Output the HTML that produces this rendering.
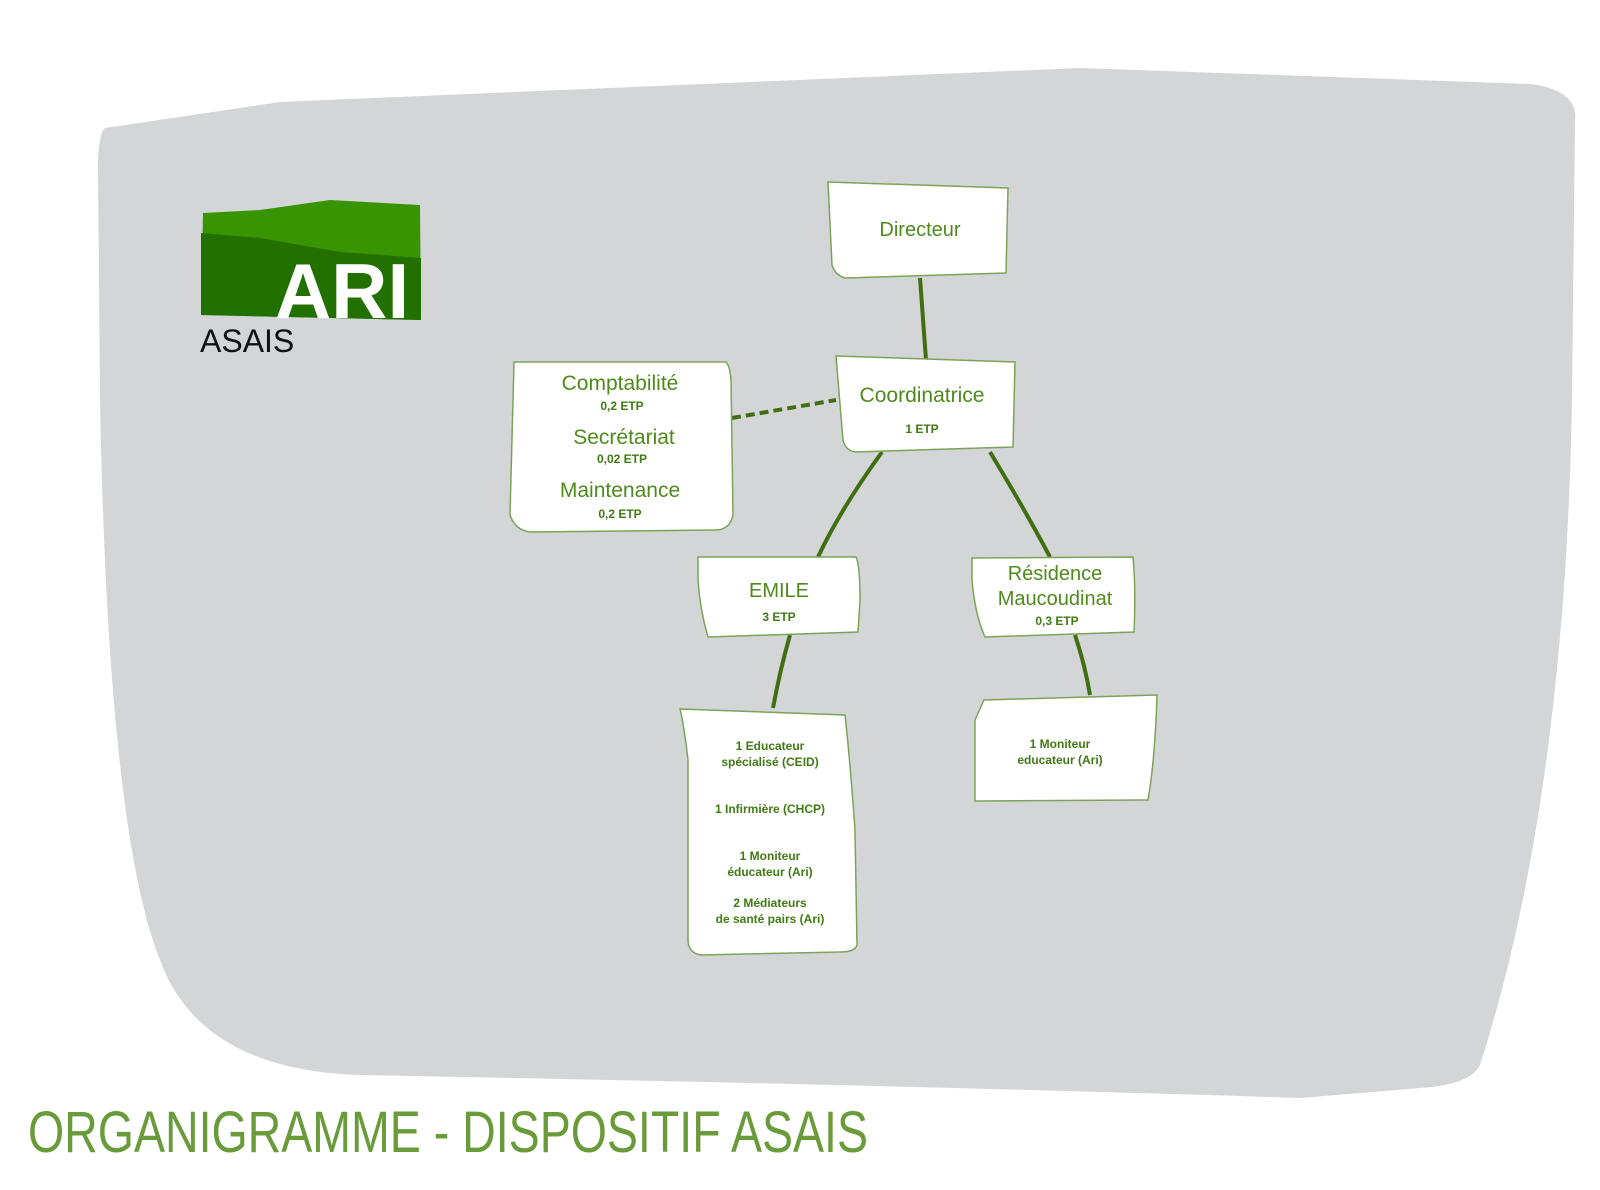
<!DOCTYPE html>
<html><head><meta charset="utf-8"><style>
html,body{margin:0;padding:0;background:#fff;}
svg{display:block}
.t{font-family:"Liberation Sans",sans-serif;fill:#4f8a1c;text-anchor:middle}
.s{font-family:"Liberation Sans",sans-serif;fill:#3f7a12;font-weight:bold;font-size:12px;text-anchor:middle}
.n{fill:#fff;stroke:#7da35a;stroke-width:1.5}
</style></head><body>
<svg width="1600" height="1190" viewBox="0 0 1600 1190" xmlns="http://www.w3.org/2000/svg">
<path d="M105,128 L280,102 L1080,68 L1530,84 Q1578,90 1575,120 L1572,400 Q1565,800 1480,1065 Q1470,1085 1420,1088 L1300,1098 Q900,1085 360,1075 Q200,1070 160,960 Q108,830 100,400 L98,160 Q100,130 105,128 Z" fill="#d4d5d7"/>
<!-- logo -->
<path d="M203,213 L260,210 L330,200 L420,205 L421,320 L201,315 Z" fill="#389400"/>
<path d="M201,233 L260,238 L340,252 L421,258 L421,320 L201,315 Z" fill="#227000"/>
<text x="342" y="318" font-family="Liberation Sans,sans-serif" font-weight="bold" font-size="78" fill="#fff" text-anchor="middle">ARI</text>
<text x="200" y="352" font-family="Liberation Sans,sans-serif" font-size="32" fill="#111">ASAIS</text>
<!-- connectors -->
<g stroke="#3f6f12" stroke-width="4" fill="none">
<path d="M920,278 L926,360"/>
<path d="M882,452 Q840,510 818,557"/>
<path d="M990,452 Q1025,510 1050,557"/>
<path d="M790,635 Q780,670 773,708"/>
<path d="M1075,635 Q1085,665 1090,695"/>
<path d="M732,418 L836,400" stroke-dasharray="9,5"/>
</g>
<!-- nodes -->
<path class="n" d="M828,182 L1008,188 L1006,273 L845,278 Q835,275 832,265 Z"/>
<text class="t" x="920" y="236" font-size="20">Directeur</text>
<path class="n" d="M836,356 L1015,362 L1013,447 L855,452 Q845,450 843,440 Z"/>
<text class="t" x="922" y="402" font-size="21">Coordinatrice</text>
<text class="s" x="922" y="433">1 ETP</text>
<path class="n" d="M514,362 L726,362 Q730,366 731,380 L733,515 Q730,530 715,530 L530,532 Q515,530 510,515 Z"/>
<text class="t" x="620" y="390" font-size="21">Comptabilité</text>
<text class="s" x="622" y="410">0,2 ETP</text>
<text class="t" x="624" y="444" font-size="21">Secrétariat</text>
<text class="s" x="622" y="463">0,02 ETP</text>
<text class="t" x="620" y="497" font-size="21">Maintenance</text>
<text class="s" x="620" y="518">0,2 ETP</text>
<path class="n" d="M698,557 L856,557 Q860,565 860,600 L858,632 L708,637 Q700,610 698,580 Z"/>
<text class="t" x="779" y="597" font-size="20">EMILE</text>
<text class="s" x="779" y="621">3 ETP</text>
<path class="n" d="M972,558 L1133,557 Q1136,590 1134,632 L985,637 Q975,615 972,580 Z"/>
<text class="t" x="1055" y="580" font-size="20">Résidence</text>
<text class="t" x="1055" y="605" font-size="20">Maucoudinat</text>
<text class="s" x="1057" y="625">0,3 ETP</text>
<path class="n" d="M680,709 L845,715 Q850,760 855,830 L857,945 Q855,952 840,952 L700,955 Q688,952 688,940 L688,760 Q684,725 680,709 Z"/>
<text class="s" x="770" y="750">1 Educateur</text>
<text class="s" x="770" y="766">spécialisé (CEID)</text>
<text class="s" x="770" y="813">1 Infirmière (CHCP)</text>
<text class="s" x="770" y="860">1 Moniteur</text>
<text class="s" x="770" y="876">éducateur (Ari)</text>
<text class="s" x="770" y="907">2 Médiateurs</text>
<text class="s" x="770" y="923">de santé pairs (Ari)</text>
<path class="n" d="M984,700 L1157,695 Q1155,760 1148,800 L975,801 L975,720 Z"/>
<text class="s" x="1060" y="748">1 Moniteur</text>
<text class="s" x="1060" y="764">educateur (Ari)</text>
<text x="28" y="1152" font-family="Liberation Sans,sans-serif" font-size="58" fill="#6a9b3a" textLength="840" lengthAdjust="spacingAndGlyphs">ORGANIGRAMME - DISPOSITIF ASAIS</text>
</svg>
</body></html>
